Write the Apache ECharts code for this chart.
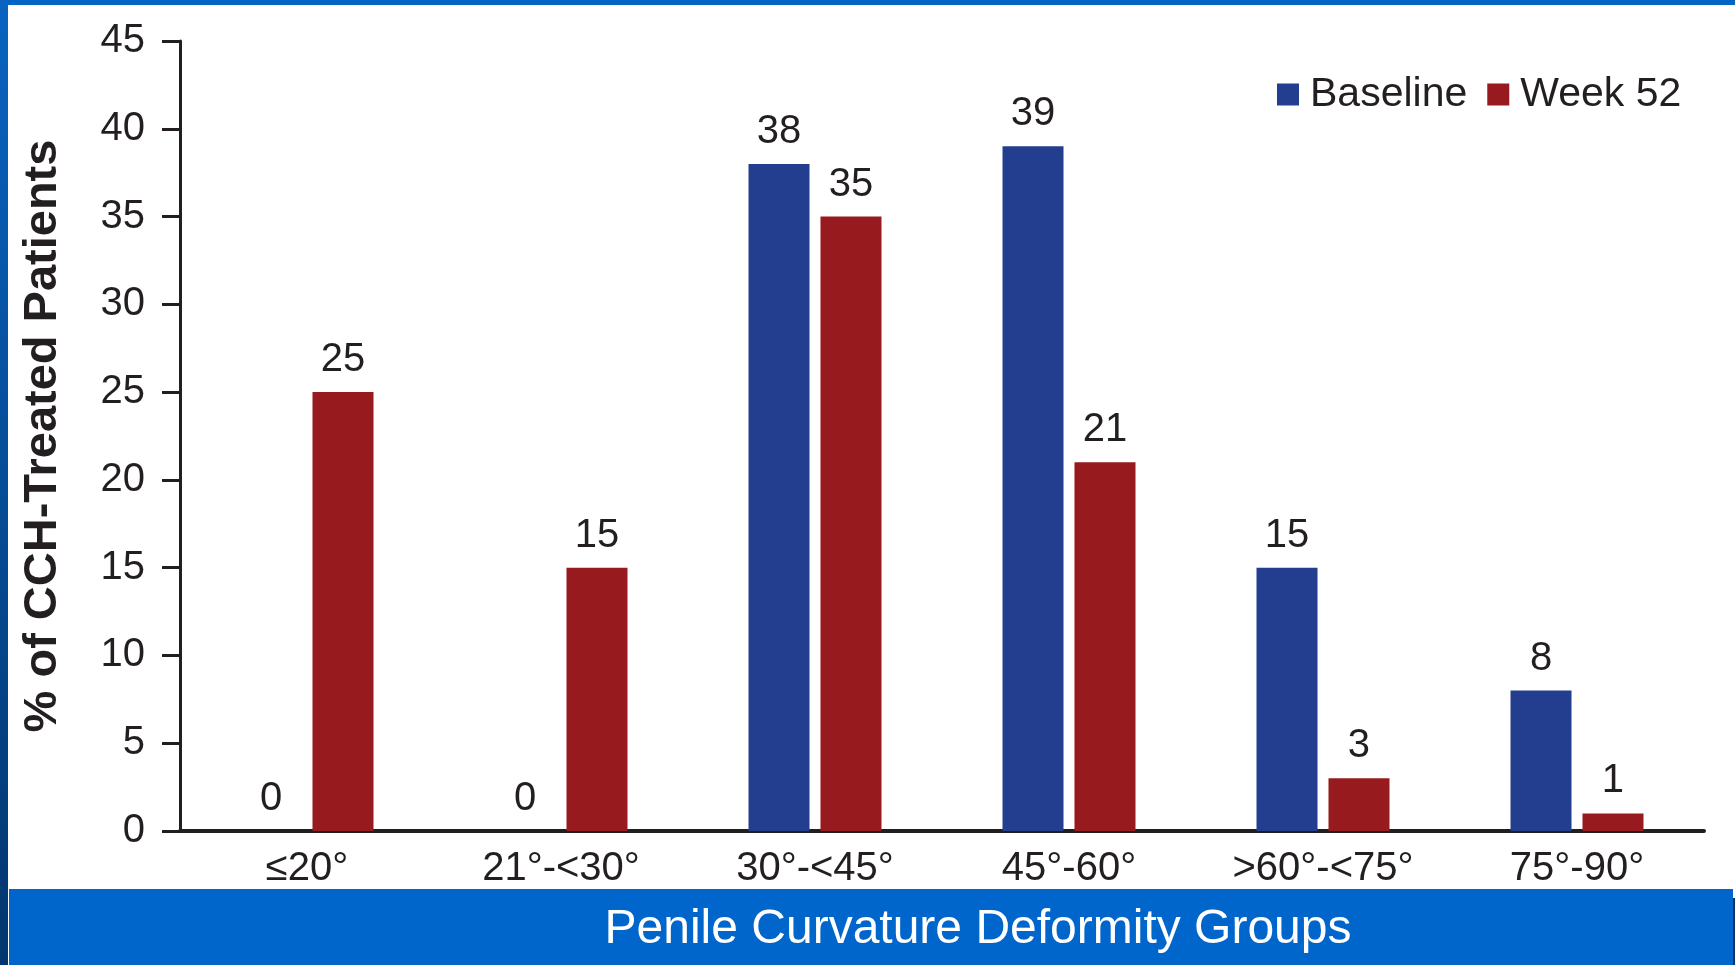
<!DOCTYPE html>
<html>
<head>
<meta charset="utf-8">
<title>Penile Curvature Deformity Groups</title>
<script src="https://cdn.jsdelivr.net/npm/echarts@6/dist/echarts.min.js"></script>
<style>
  html, body { margin: 0; padding: 0; background: #ffffff; }
  #chart { width: 1735px; height: 965px; }
</style>
</head>
<body>
<div id="chart"></div>
<script>
// Curvature groups and share of patients (%) in each, at baseline and at week 52
const categories = ['≤20°', '21°-<30°', '30°-<45°', '45°-60°', '>60°-<75°', '75°-90°'];
const baseline = [0, 0, 38, 39, 15, 8];
const week52 = [25, 15, 35, 21, 3, 1];
const yTicks = { min: 0, max: 45, interval: 5 };

const FONT = "'Liberation Sans', Arial, Helvetica, sans-serif";
const INK = '#231f20';
const BLUE = '#233e8e';
const RED = '#971a1e';
const BAND = '#0066cc';

const chart = echarts.init(document.getElementById('chart'), null, { renderer: 'canvas' });

const labelStyle = {
  show: true,
  position: 'top',
  distance: 12,
  fontSize: 40,
  fontFamily: FONT,
  color: INK
};

chart.setOption({
  backgroundColor: '#ffffff',
  animation: false,
  textStyle: { fontFamily: FONT },
  graphic: [
    // slide frame: top rule, left strip and the blue band under the chart
    { type: 'rect', z: -10, shape: { x: 0, y: 0, width: 1735, height: 5 }, style: { fill: '#0066c6' } },
    {
      type: 'rect', z: -10, shape: { x: 0, y: 0, width: 8, height: 965 },
      style: {
        fill: new echarts.graphic.LinearGradient(0, 0, 0, 1, [
          { offset: 0, color: '#0a63c0' },
          { offset: 1, color: '#02366e' }
        ])
      }
    },
    { type: 'rect', z: -10, shape: { x: 1733, y: 898, width: 2, height: 67 }, style: { fill: '#0b3466' } },
    { type: 'rect', z: -10, shape: { x: 9, y: 889, width: 1724, height: 76 }, style: { fill: BAND } }
  ],
  legend: {
    data: ['Baseline', 'Week 52'],
    left: 1277,
    top: 74,
    padding: 0,
    itemWidth: 22,
    itemHeight: 22,
    itemGap: 20,
    icon: 'rect',
    textStyle: { fontSize: 41, color: INK, fontFamily: FONT, padding: [0, 0, 0, 6] }
  },
  grid: { left: 180, right: 31, top: 41, bottom: 134, containLabel: false },
  xAxis: {
    type: 'category',
    data: categories,
    name: 'Penile Curvature Deformity Groups',
    nameLocation: 'middle',
    nameGap: 75,
    nameTextStyle: { color: '#ffffff', fontSize: 48, fontFamily: FONT, padding: [0, 0, 0, 72] },
    axisLine: { lineStyle: { color: INK, width: 4 } },
    axisTick: { show: false },
    axisLabel: { fontSize: 40, color: INK, margin: 18, fontFamily: FONT, interval: 0 }
  },
  yAxis: {
    type: 'value',
    min: yTicks.min,
    max: yTicks.max,
    interval: yTicks.interval,
    name: '% of CCH-Treated Patients',
    nameLocation: 'middle',
    nameGap: 113,
    nameTextStyle: { fontSize: 47, fontWeight: 'bold', color: INK, fontFamily: FONT },
    axisLine: { show: true, lineStyle: { color: INK, width: 3 } },
    axisTick: { show: true, length: 18, lineStyle: { color: INK, width: 3 } },
    axisLabel: { fontSize: 40, color: INK, margin: 35, fontFamily: FONT },
    splitLine: { show: false }
  },
  series: [
    {
      name: 'Baseline',
      type: 'bar',
      data: baseline,
      barWidth: 61,
      barGap: '18%',
      itemStyle: { color: BLUE },
      label: labelStyle
    },
    {
      name: 'Week 52',
      type: 'bar',
      data: week52,
      barWidth: 61,
      barGap: '18%',
      itemStyle: { color: RED },
      label: labelStyle
    }
  ]
});
</script>
</body>
</html>
